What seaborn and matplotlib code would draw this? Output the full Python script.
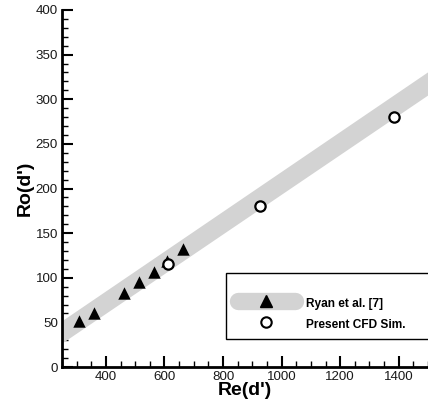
import matplotlib
matplotlib.use("Agg")
import matplotlib.pyplot as plt
import seaborn as sns
import pandas as pd
from matplotlib.lines import Line2D
from matplotlib.patches import Rectangle
from matplotlib.ticker import MultipleLocator

# Data
ryan_re = [308, 360, 461, 513, 563, 610, 664]
ryan_ro = [51, 61, 83, 95, 107, 119, 132]
cfd_re = [612, 926, 1385]
cfd_ro = [115, 180, 280]
band_re = [250, 1500]
band_low = [27, 305]
band_high = [52, 331]
x_ticks = [400, 600, 800, 1000, 1200, 1400]
y_ticks = [0, 50, 100, 150, 200, 250, 300, 350, 400]

sns.set_style("white")
plt.rcParams['font.family'] = ['Liberation Sans', 'DejaVu Sans']
plt.rcParams['text.color'] = 'black'
plt.rcParams['axes.labelcolor'] = 'black'

fig = plt.figure(figsize=(4.28, 4.08), dpi=100)
ax = fig.add_axes([62/428, 1-367/408, 1-62/428, (367-10)/408])

ax.fill_between(band_re, band_low, band_high, color='#d3d3d3', lw=0, zorder=1)

df_r = pd.DataFrame({'Re': ryan_re, 'Ro': ryan_ro})
df_c = pd.DataFrame({'Re': cfd_re, 'Ro': cfd_ro})
sns.scatterplot(data=df_r, x='Re', y='Ro', marker='^', s=80, color='black',
                edgecolor='black', linewidth=0, ax=ax, zorder=3)
sns.scatterplot(data=df_c, x='Re', y='Ro', marker='o', s=55, facecolor='white',
                edgecolor='black', linewidth=1.6, ax=ax, zorder=4)

ax.set_xlim(250, 1500)
ax.set_ylim(0, 400)
ax.set_xticks(x_ticks)
ax.set_yticks(y_ticks)
ax.xaxis.set_minor_locator(MultipleLocator(50))
ax.yaxis.set_minor_locator(MultipleLocator(10))
ax.tick_params(which='major', direction='in', length=8, width=1.5, labelsize=9.6,
               colors='black', labelcolor='#1a1a1a', pad=3)
ax.tick_params(which='minor', direction='in', length=4.5, width=1.0, colors='black')
ax.tick_params(bottom=True, left=True, which='both')
for s in ['top', 'right']:
    ax.spines[s].set_visible(False)
for s in ['left', 'bottom']:
    ax.spines[s].set_linewidth(2)
    ax.spines[s].set_color('black')

ax.set_xlabel("Re(d')", fontsize=14, fontweight='bold', labelpad=-0.5, color='black')
ax.set_ylabel("Ro(d')", fontsize=14, fontweight='bold', labelpad=1, color='black')

# Legend box
fig.patches.append(Rectangle((226/428, 1-339/408), 210/428, 66/408,
                             transform=fig.transFigure, facecolor='white',
                             edgecolor='black', lw=1, zorder=5))
h1 = (Line2D([0], [0], color='#d3d3d3', lw=12.5, solid_capstyle='round'),
      Line2D([0], [0], marker='^', color='black', ls='none', markersize=8.5))
h2 = Line2D([0], [0], marker='o', markerfacecolor='white', markeredgecolor='black',
            markeredgewidth=1.5, ls='none', markersize=7.5)
leg = fig.legend([h1, h2], ['Ryan et al. [7]', 'Present CFD Sim.'],
                 loc='upper left', bbox_to_anchor=(238/428, 1-295/408),
                 frameon=False, prop={'weight': 'bold', 'size': 8.6},
                 handlelength=4.75, handleheight=1.6, handletextpad=0.95,
                 labelspacing=0.5, borderpad=0.0, borderaxespad=0)
leg.set_zorder(6)
for t in leg.get_texts():
    t.set_color('black')

fig.savefig('out.png', dpi=100)
